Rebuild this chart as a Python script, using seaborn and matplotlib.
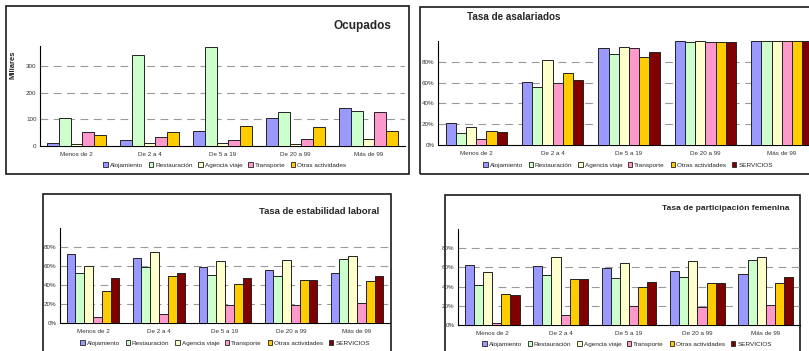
import numpy as np
import pandas as pd
import seaborn as sns
import matplotlib.pyplot as plt
from matplotlib.patches import Rectangle
from matplotlib.ticker import PercentFormatter, FixedLocator

# --- donnees ---
tamanos = ["Menos de 2", "De 2 a 4", "De 5 a 19", "De 20 a 99", "Más de 99"]
sectores = ["Alojamiento", "Restauración", "Agencia viaje", "Transporte",
            "Otras actividades", "SERVICIOS"]
colores = ["#9999FF", "#CCFFCC", "#FFFFCC", "#FF99CC", "#FFCC00", "#800000"]

# Ocupados (miles), sin SERVICIOS
ocup_aloj = [10, 21, 56, 105, 141]
ocup_rest = [104, 343, 372, 129, 132]
ocup_agen = [7, 12, 12, 8, 27]
ocup_tran = [51, 32, 21, 26, 126]
ocup_otras = [40, 51, 76, 71, 57]

# Tasa de asalariados (%)
asal_aloj = [21.5, 61, 93, 99.7, 100]
asal_rest = [11.2, 56, 87.5, 98.7, 100]
asal_agen = [17.6, 81.7, 94.5, 99.7, 100]
asal_tran = [5.5, 59.3, 93.6, 98.7, 100]
asal_otras = [13.8, 69, 85, 98.7, 100]
asal_serv = [12.8, 62.2, 89.7, 98.7, 100]

# Tasa de estabilidad laboral (%)
est_aloj = [72.4, 68.2, 59.4, 55.9, 53.1]
est_rest = [53.1, 58.7, 51, 49.7, 67.5]
est_agen = [60.1, 75.2, 65.7, 66.4, 71]
est_tran = [6.3, 9.1, 18.5, 18.5, 20.6]
est_otras = [33.2, 49.7, 40.9, 44.8, 44]
est_serv = [46.9, 53.1, 46.9, 44.8, 49.7]

# Tasa de participacion femenina (%)
fem_aloj = [63, 61.9, 59.1, 56.3, 53.2]
fem_rest = [41.4, 51.8, 48.7, 49.7, 67.5]
fem_agen = [55, 71.3, 64.3, 66.8, 71.3]
fem_tran = [2.4, 10.1, 19.5, 18.4, 21.2]
fem_otras = [32.3, 47.7, 40, 44.2, 44.2]
fem_serv = [31, 47.7, 45.2, 44.2, 49.7]


def tabla(series):
    filas = []
    for nombre, vals in zip(sectores, series):
        for t, v in zip(tamanos, vals):
            filas.append({"tamano": t, "sector": nombre, "valor": v})
    return pd.DataFrame(filas)


df_ocup = tabla([ocup_aloj, ocup_rest, ocup_agen, ocup_tran, ocup_otras])
df_asal = tabla([asal_aloj, asal_rest, asal_agen, asal_tran, asal_otras, asal_serv])
df_est = tabla([est_aloj, est_rest, est_agen, est_tran, est_otras, est_serv])
df_fem = tabla([fem_aloj, fem_rest, fem_agen, fem_tran, fem_otras, fem_serv])

sns.set_theme(style="white")
plt.rcParams["font.family"] = ["Liberation Sans", "DejaVu Sans"]

W, H = 809, 351
fig = plt.figure(figsize=(W / 100, H / 100), dpi=100)


def px(x0, y0, x1, y1):
    return [x0 / W, 1 - y1 / H, (x1 - x0) / W, (y1 - y0) / H]


# cadres des graphiques
for (x0, y0, x1, y1) in [(6, 6, 409, 174), (420, 7, 830, 174),
                         (43, 194, 391, 370), (445, 195, 800, 370)]:
    l, b, w, h = px(x0, y0, x1, y1)
    fig.add_artist(Rectangle((l, b), w, h, transform=fig.transFigure,
                             fill=False, lw=1.2, ec="#1a1a1a", zorder=0))


def panel(df, rect, ymax, yticks, pct, n_series):
    ax = fig.add_axes(px(*rect))
    pal = dict(zip(sectores[:n_series], colores[:n_series]))
    sns.barplot(data=df, x="tamano", y="valor", hue="sector", palette=pal,
                saturation=1, edgecolor="#222222", linewidth=0.7,
                width=0.8, ax=ax, legend=False, zorder=3)
    ax.set_ylim(0, ymax)
    ax.set_xlim(-0.5, 4.5)
    ax.set_yticks(yticks)
    if pct:
        ax.yaxis.set_major_formatter(PercentFormatter(100, decimals=0))
    for v in yticks[1:]:
        ax.axhline(v, color="#999999", lw=0.8, ls=(0, (7, 5)), zorder=1)
    for s in ["top", "right"]:
        ax.spines[s].set_visible(False)
    for s in ["left", "bottom"]:
        ax.spines[s].set_color("black")
        ax.spines[s].set_linewidth(0.8)
    ax.set_xlabel("")
    ax.set_ylabel("")
    ax.tick_params(axis="y", labelsize=4.5, length=3, direction="inout",
                   width=0.6, pad=1, colors="#333333")
    ax.tick_params(axis="x", labelsize=4.5, length=0, pad=4, colors="#333333")
    ax.xaxis.set_minor_locator(FixedLocator([0.5, 1.5, 2.5, 3.5]))
    ax.tick_params(axis="x", which="minor", length=2.5, width=0.6,
                   direction="out", color="black")
    ax.set_facecolor("none")
    return ax


def leyenda(n_series, cx, cy):
    handles = [Rectangle((0, 0), 1, 1, fc=c, ec="#222222", lw=0.6)
               for c in colores[:n_series]]
    fig.legend(handles, sectores[:n_series], loc="center",
               bbox_to_anchor=(cx / W, 1 - cy / H), ncol=n_series,
               frameon=False, fontsize=4.6, handlelength=0.7,
               handleheight=0.7, handletextpad=0.3, columnspacing=0.9,
               borderpad=0)


ax1 = panel(df_ocup, (40, 46, 405, 146), 375, [0, 100, 200, 300], False, 5)
leyenda(5, 225, 165)
fig.text(391 / W, 1 - 26 / H, "Ocupados", ha="right", va="center",
         fontsize=8.5, fontweight="bold")
fig.text(13 / W, 1 - 65 / H, "Miliares", rotation=90, ha="center",
         va="center", fontsize=5.5, fontweight="bold")

ax2 = panel(df_asal, (438, 41, 820, 145), 100, [0, 20, 40, 60, 80], True, 6)
leyenda(6, 628, 165)
fig.text(467 / W, 1 - 17 / H, "Tasa de asalariados", ha="left", va="center",
         fontsize=7.1, fontweight="bold")

ax3 = panel(df_est, (60, 228, 390, 323), 100, [0, 20, 40, 60, 80], True, 6)
leyenda(6, 225, 343)
fig.text(259 / W, 1 - 211 / H, "Tasa de estabilidad laboral", ha="left",
         va="center", fontsize=6.8, fontweight="bold")

ax4 = panel(df_fem, (458, 229, 800, 325), 100, [0, 20, 40, 60, 80], True, 6)
leyenda(6, 627, 344)
fig.text(662 / W, 1 - 208 / H, "Tasa de participación femenina", ha="left",
         va="center", fontsize=6.1, fontweight="bold")

plt.savefig("out.png", dpi=100)
